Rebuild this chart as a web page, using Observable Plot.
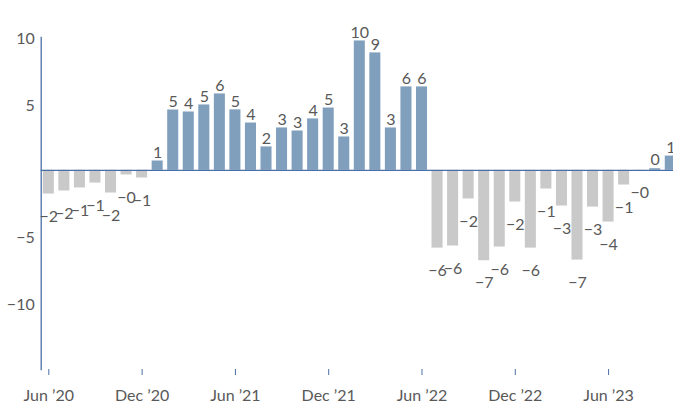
<!DOCTYPE html>
<html>
<head>
<meta charset="utf-8">
<script src="https://cdn.jsdelivr.net/npm/d3@7"></script>
<script src="https://cdn.jsdelivr.net/npm/@observablehq/plot@0.6"></script>
<style>
  html, body { margin: 0; padding: 0; background: #fff; overflow: hidden; }
  #chart { width: 673px; height: 404px; overflow: hidden; }
  #chart svg { max-width: none !important; }
</style>
</head>
<body>
<div id="chart"></div>
<script>
const months = [
  "2020-06","2020-07","2020-08","2020-09","2020-10","2020-11","2020-12",
  "2021-01","2021-02","2021-03","2021-04","2021-05","2021-06","2021-07","2021-08","2021-09","2021-10","2021-11","2021-12",
  "2022-01","2022-02","2022-03","2022-04","2022-05","2022-06","2022-07","2022-08","2022-09","2022-10","2022-11","2022-12",
  "2023-01","2023-02","2023-03","2023-04","2023-05","2023-06","2023-07","2023-08","2023-09","2023-10"
];
const values = [
  -1.79, -1.56, -1.33, -0.96, -1.71, -0.35, -0.58,
  0.70, 4.54, 4.39, 4.92, 5.75, 4.55, 3.56, 1.76, 3.19, 2.96, 3.87, 4.69,
  2.51, 9.74, 8.84, 3.19, 6.28, 6.28, -5.86, -5.70, -2.16, -6.81, -5.78, -2.39,
  -5.86, -1.41, -2.69, -6.76, -2.77, -3.90, -1.11, -0.04, 0.12, 1.07
];
const xTicks = ["2020-06","2020-12","2021-06","2021-12","2022-06","2022-12","2023-06"];
const xTickLabels = ["Jun \u201920","Dec \u201920","Jun \u201921","Dec \u201921","Jun \u201922","Dec \u201922","Jun \u201923"];
const yTicks = [10, 5, -5, -10];
const yTickLabels = ["10", "5", "\u22125", "\u221210"];

const posColor = "#809fbd";
const negColor = "#c9c9c9";
const axisColor = "#4a6fa8";
const textColor = "#595959";

const data = months.map((m, i) => ({month: m, value: values[i]}));
const label = d => (d.value < 0 ? "\u2212" : "") + Math.round(Math.abs(d.value));
const pos = data.filter(d => d.value >= 0);
const neg = data.filter(d => d.value < 0);

const chart = Plot.plot({
  width: 680,
  height: 404,
  marginLeft: 40.7,
  marginRight: 2.1,
  marginTop: 37,
  marginBottom: 35,
  style: {fontFamily: "Lato, 'Open Sans', sans-serif", fontSize: "16px", color: textColor, background: "#fff", maxWidth: "none"},
  x: {type: "band", domain: months, paddingInner: 0.29, paddingOuter: 0.135, align: 0.5, round: false, label: null},
  y: {domain: [-15, 10], label: null},
  marks: [
    Plot.barY(pos, {x: "month", y: "value", fill: posColor}),
    Plot.barY(neg, {x: "month", y: "value", fill: negColor}),
    Plot.ruleY([0], {stroke: axisColor, strokeWidth: 1.3}),
    Plot.frame({anchor: "left", stroke: axisColor, strokeWidth: 1.3}),
    Plot.axisY({
      ticks: yTicks, tickSize: 0, tickPadding: 6.5, dy: 1.5, label: null,
      tickFormat: d => yTickLabels[yTicks.indexOf(d)],
      fill: textColor, fontSize: 16
    }),
    Plot.axisX({
      ticks: xTicks, tickSize: 6, tickPadding: 14.5, label: null,
      tickFormat: d => xTickLabels[xTicks.indexOf(d)],
      stroke: axisColor, fill: textColor, fontSize: 16
    }),
    Plot.text(pos, {x: "month", y: "value", text: label, dy: -8.5, fill: textColor, fontSize: 16}),
    Plot.text(neg, {x: "month", y: "value", text: label, dy: 22.5, fill: textColor, fontSize: 16})
  ]
});
chart.style.maxWidth = "none";
document.getElementById("chart").appendChild(chart);
</script>
</body>
</html>
